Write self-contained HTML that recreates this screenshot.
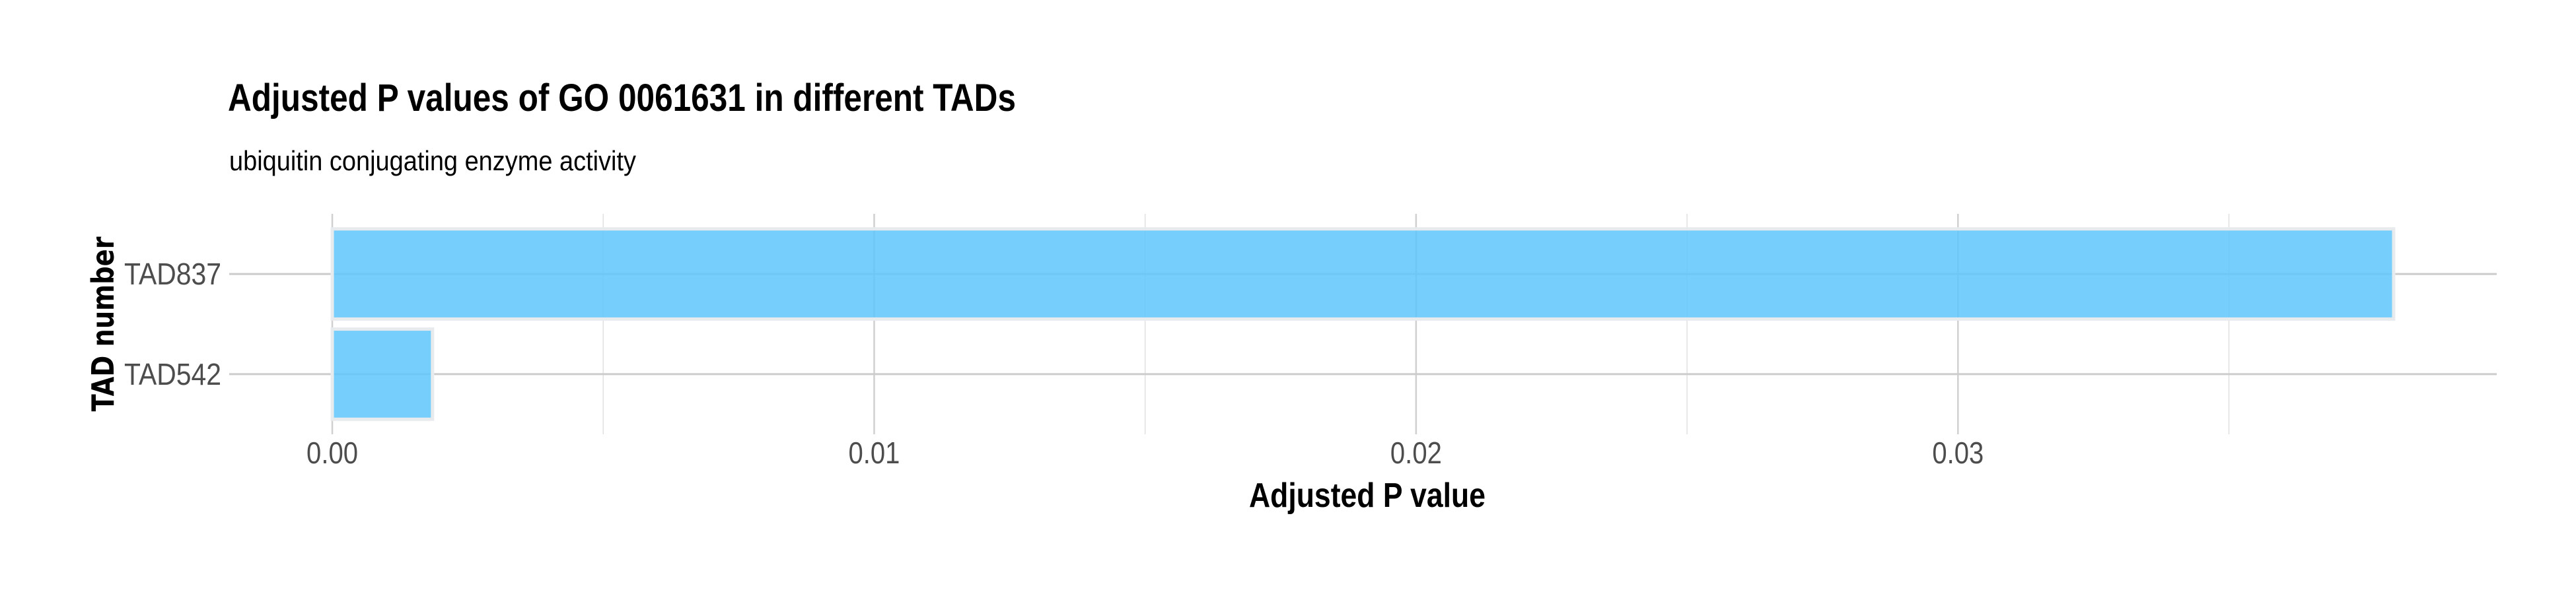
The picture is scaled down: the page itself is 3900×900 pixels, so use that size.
<!DOCTYPE html>
<html><head><meta charset="utf-8"><style>
html,body{margin:0;padding:0;background:#fff;}
svg{display:block;font-family:"Liberation Sans",sans-serif;}
</style></head><body>
<svg id="chart" width="3900" height="900" viewBox="0 0 3900 900">
<text x="345" y="168" font-size="58" font-weight="bold" textLength="1193" lengthAdjust="spacingAndGlyphs" fill="#000">Adjusted P values of GO 0061631 in different TADs</text>
<text x="347" y="258" font-size="42" textLength="616" lengthAdjust="spacingAndGlyphs" fill="#000">ubiquitin conjugating enzyme activity</text>
<g id="grid"></g>
<g id="bars"></g>
<g id="labels"></g>
<text x="2070" y="768" font-size="52" font-weight="bold" text-anchor="middle" textLength="358" lengthAdjust="spacingAndGlyphs">Adjusted P value</text>
<text transform="translate(172,491) rotate(-90)" font-size="46" font-weight="bold" text-anchor="middle" font-family="'DejaVu Sans',sans-serif" textLength="265" lengthAdjust="spacingAndGlyphs">TAD number</text>
</svg>
<script>
const categories = ["TAD542", "TAD837"];
const values = [0.00185, 0.03804];
const xTicks = [0, 0.01, 0.02, 0.03];
const xTickLabels = ["0.00", "0.01", "0.02", "0.03"];
const xMinorTicks = [0.005, 0.015, 0.025, 0.035];

const NS = "http://www.w3.org/2000/svg";
const pL = 347, pR = 3780, pT = 324, pB = 658;
const maxV = Math.max(...values);
const dMin = -0.05 * maxV, dMax = maxV * 1.05;
const xs = v => pL + (v - dMin) / (dMax - dMin) * (pR - pL);
const n = categories.length;
const band = (pB - pT) / (n - 1 + 1.2);
const ys = i => pB - 0.6 * band - i * band;
function mk(tag, attrs, parent) {
  const e = document.createElementNS(NS, tag);
  for (const k in attrs) e.setAttribute(k, attrs[k]);
  parent.appendChild(e);
  return e;
}
const grid = document.getElementById("grid");
const bars = document.getElementById("bars");
const labels = document.getElementById("labels");
xMinorTicks.forEach(t => {
  if (xs(t) > pR) return;
  const l = mk("line", {x1: xs(t), x2: xs(t), y1: pT, y2: pB, stroke: "#e0e0e0", "stroke-width": 1.5}, grid);
  
  
});
xTicks.forEach((t, i) => {
  const l = mk("line", {x1: xs(t), x2: xs(t), y1: pT, y2: pB, stroke: "#d0d0d0", "stroke-width": 2.5}, grid);
  
  
  const tx = mk("text", {x: xs(t), y: 702, "font-size": 46, "text-anchor": "middle", fill: "#4d4d4d", textLength: 78, lengthAdjust: "spacingAndGlyphs"}, labels);
  tx.textContent = xTickLabels[i];
  
  
});
categories.forEach((c, i) => {
  const y = ys(i);
  const l = mk("line", {x1: pL, x2: pR, y1: y, y2: y, stroke: "#cccccc", "stroke-width": 3}, grid);
  
  
  const bw = band * 0.9;
  const r = mk("rect", {x: xs(0), y: y - bw / 2, width: xs(values[i]) - xs(0), height: bw, fill: "#5ec6fc", "fill-opacity": 0.85, stroke: "#e8ebee", "stroke-width": 5}, bars);
  
  
  const tx = mk("text", {x: 335, y: y + 16, "font-size": 46, "text-anchor": "end", fill: "#4d4d4d", textLength: 147, lengthAdjust: "spacingAndGlyphs"}, labels);
  tx.textContent = c;
  
  
});
</script>
</body></html>
